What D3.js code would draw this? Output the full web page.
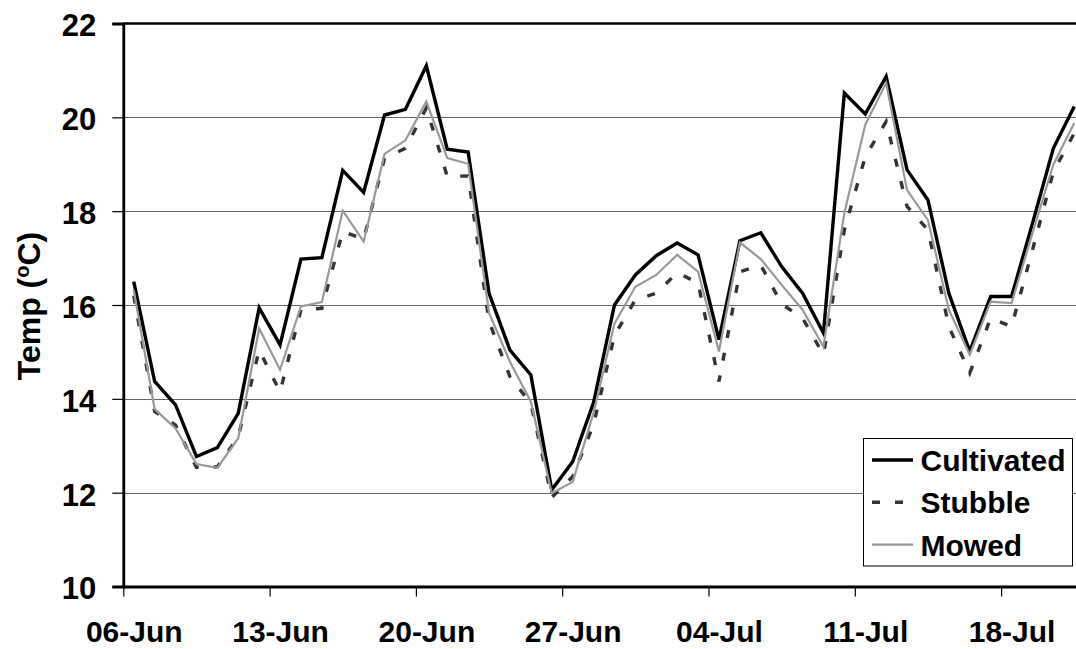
<!DOCTYPE html>
<html>
<head>
<meta charset="utf-8">
<script src="https://cdn.jsdelivr.net/npm/d3@7"></script>
<style>
  body { margin: 0; background: #fff; }
  text { font-family: "Liberation Sans", Arial, sans-serif; font-weight: bold; }
</style>
</head>
<body>
<div id="chart"></div>
<script>
// daily mean temperature, 06-Jun .. 21-Jul
var startDay = new Date(Date.UTC(2005, 5, 6)),
    endDay = new Date(Date.UTC(2005, 6, 22));
var days = d3.utcDay.range(startDay, endDay);

var cultivated = [16.5, 14.37, 13.87, 12.77, 12.96, 13.69, 15.94, 15.15, 16.98, 17.01,
  18.87, 18.4, 20.05, 20.17, 21.1, 19.32, 19.26, 16.25, 15.04, 14.51,
  12.06, 12.66, 13.92, 16.0, 16.64, 17.05, 17.32, 17.07, 15.26, 17.37,
  17.54, 16.82, 16.25, 15.4, 20.52, 20.07, 20.87, 18.88, 18.24, 16.25,
  15.01, 16.18, 16.18, 17.74, 19.34, 20.23];
var stubble = [16.2, 13.73, 13.44, 12.54, 12.55, 13.19, 15.04, 14.15, 15.9, 15.93,
  17.57, 17.4, 19.13, 19.34, 20.2, 18.74, 18.75, 15.65, 14.47, 13.9,
  11.9, 12.34, 13.45, 15.35, 16.11, 16.25, 16.69, 16.47, 14.37, 16.71,
  16.85, 16.02, 15.72, 14.94, 17.6, 19.16, 19.91, 18.1, 17.6, 15.54,
  14.55, 15.72, 15.54, 17.17, 18.84, 19.66];
var mowed = [16.32, 13.78, 13.37, 12.61, 12.53, 13.16, 15.5, 14.62, 15.97, 16.06,
  18.01, 17.35, 19.22, 19.51, 20.34, 19.13, 19.01, 15.83, 14.79, 13.94,
  11.99, 12.23, 13.7, 15.6, 16.39, 16.64, 17.07, 16.71, 15.01, 17.33,
  16.98, 16.43, 15.9, 15.11, 17.96, 19.84, 20.73, 18.45, 17.81, 15.9,
  14.94, 16.07, 16.04, 17.53, 18.99, 19.88];

var yTicks = [10, 12, 14, 16, 18, 20, 22];
var xTickLabels = ["06-Jun", "13-Jun", "20-Jun", "27-Jun", "04-Jul", "11-Jul", "18-Jul"];
var parseLabel = d3.utcParse("%d-%b-%Y");
var xTicks = xTickLabels.map(function(s) { return parseLabel(s + "-2005"); });

var series = [
  {name: "Cultivated", values: cultivated, color: "#000", width: 3.4, dash: null},
  {name: "Stubble", values: stubble, color: "#333", width: 3.4, dash: "8,15"},
  {name: "Mowed", values: mowed, color: "#999", width: 2.2, dash: null}
];

var totalWidth = 1076, totalHeight = 649,
    plotLeft = 123.3, plotTop = 23.5, plotBottom = 586.5,
    plotRight = plotLeft + 46 * 20.9;

var x = d3.scaleUtc().domain([startDay, endDay]).range([plotLeft, plotRight]);
var y = d3.scaleLinear().domain([10, 22]).range([plotBottom, plotTop]);
var mid = function(d) { return x(d3.utcHour.offset(d, 12)); };

var svg = d3.select("#chart").append("svg")
    .attr("width", totalWidth)
    .attr("height", totalHeight);

// gridlines
svg.append("g")
  .selectAll("line")
  .data(yTicks.filter(function(v) { return v > 10 && v < 22; }))
  .enter().append("line")
    .attr("x1", plotLeft).attr("x2", plotRight)
    .attr("y1", function(d) { return Math.round(y(d)) + 0.5; })
    .attr("y2", function(d) { return Math.round(y(d)) + 0.5; })
    .attr("stroke", "#666")
    .attr("stroke-width", 1);

// top border
svg.append("line")
    .attr("x1", plotLeft).attr("x2", plotRight)
    .attr("y1", y(22)).attr("y2", y(22))
    .attr("stroke", "#000").attr("stroke-width", 2.5);

// y axis
var yAxis = svg.append("g")
    .attr("transform", "translate(" + plotLeft + ",0)")
    .call(d3.axisLeft(y).tickValues(yTicks).tickSize(11).tickPadding(16).tickFormat(d3.format("d")));
yAxis.select(".domain").attr("stroke-width", 2.8);
yAxis.selectAll(".tick line").attr("stroke-width", 1.2);
yAxis.selectAll(".tick text")
    .attr("font-size", 31).attr("fill", "#000")
    .attr("font-family", "Liberation Sans, Arial, sans-serif")
    .attr("font-weight", "bold")
    .attr("dy", "0.4em");

// x axis
var xAxis = svg.append("g")
    .attr("transform", "translate(0," + plotBottom + ")")
    .call(d3.axisBottom(x).tickValues(xTicks).tickSize(10).tickSizeOuter(0)
      .tickFormat(function(d, i) { return xTickLabels[i]; }));
xAxis.select(".domain").attr("stroke-width", 2.8);
xAxis.selectAll(".tick line").attr("stroke-width", 1.2);
xAxis.selectAll(".tick text")
    .attr("font-size", 30).attr("fill", "#000")
    .attr("font-family", "Liberation Sans, Arial, sans-serif")
    .attr("font-weight", "bold")
    .attr("x", 10.45)
    .attr("y", 0).attr("dy", 55.5);

// y title
var title = svg.append("text")
    .attr("transform", "translate(40,306) rotate(-90)")
    .attr("text-anchor", "middle")
    .attr("font-size", 32);
title.append("tspan").text("Temp (");
title.append("tspan").text("o").attr("font-size", 20).attr("baseline-shift", "super");
title.append("tspan").text("C)");

// lines
var line = d3.line()
    .x(function(d, i) { return mid(days[i]); })
    .y(function(d) { return y(d); });

svg.append("g")
  .selectAll("path")
  .data(series)
  .enter().append("path")
    .attr("d", function(s) { return line(s.values); })
    .attr("fill", "none")
    .attr("stroke", function(s) { return s.color; })
    .attr("stroke-width", function(s) { return s.width; })
    .attr("stroke-dasharray", function(s) { return s.dash; })
    .attr("stroke-linejoin", "miter");

// legend
var legend = svg.append("g").attr("transform", "translate(863.5,438.5)");
legend.append("rect")
    .attr("width", 209).attr("height", 127.5)
    .attr("fill", "#fff").attr("stroke", "#000").attr("stroke-width", 1);

var item = legend.selectAll(".item")
  .data(series)
  .enter().append("g")
    .attr("class", "item")
    .attr("transform", function(s, i) { return "translate(0," + (21.5 + i * 42.3) + ")"; });

item.append("line")
    .attr("x1", 8.5).attr("x2", 49.5)
    .attr("stroke", function(s) { return s.color; })
    .attr("stroke-width", function(s) { return s.width; })
    .attr("stroke-dasharray", function(s) { return s.dash; });

item.append("text")
    .attr("x", 57)
    .attr("dy", 11)
    .attr("font-size", 30)
    .text(function(s) { return s.name; });
</script>
</body>
</html>
